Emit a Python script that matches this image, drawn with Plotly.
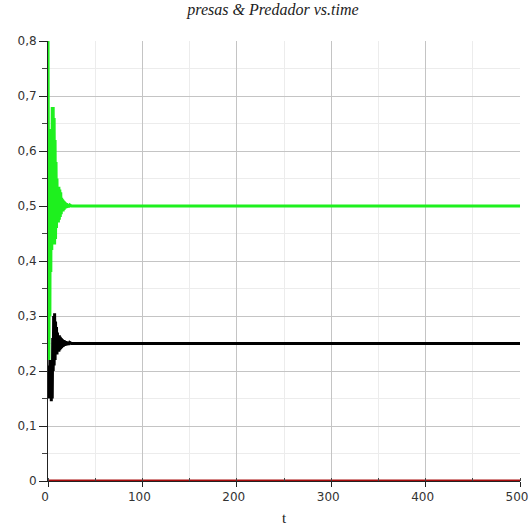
import plotly.graph_objects as go

# Time samples (early transient oscillations, then steady state)
t_presa1 = [0, 0.5, 1.0, 1.5, 2.0, 2.5, 3.0, 3.5, 4.0, 4.5, 5.0, 5.5, 6.0, 6.5, 7.0,
            7.5, 8.0, 8.5, 9.0, 9.5, 10, 10.5, 11, 11.5, 12, 12.5, 13, 13.5, 14,
            14.5, 15, 15.5, 16, 16.5, 17, 17.5, 18, 18.5, 19, 19.5, 20, 21, 22, 23,
            25, 500]
presa1 = [0.82, 0.45, 0.22, 0.55, 0.30, 0.62, 0.38, 0.64, 0.42, 0.68, 0.44, 0.68,
          0.45, 0.66, 0.43, 0.62, 0.44, 0.58, 0.46, 0.55, 0.47, 0.535, 0.47, 0.535,
          0.475, 0.53, 0.48, 0.525, 0.485, 0.515, 0.49, 0.512, 0.49, 0.51, 0.493,
          0.508, 0.495, 0.506, 0.496, 0.505, 0.497, 0.503, 0.498, 0.502, 0.5, 0.5]

t_presa2 = [0, 0.5, 1, 1.5, 2, 2.5, 3, 3.5, 4, 4.5, 5, 5.5, 6, 6.5, 7, 7.5, 8, 8.5,
            9, 9.5, 10, 10.5, 11, 11.5, 12, 12.5, 13, 13.5, 14, 14.5, 15, 16, 17,
            18, 19, 20, 21, 22, 23, 25, 500]
presa2 = [0.20, 0.16, 0.21, 0.15, 0.22, 0.15, 0.22, 0.145, 0.22, 0.15, 0.26, 0.20,
          0.30, 0.21, 0.305, 0.22, 0.29, 0.23, 0.28, 0.23, 0.27, 0.235, 0.265,
          0.235, 0.265, 0.238, 0.262, 0.24, 0.26, 0.242, 0.258, 0.244, 0.256,
          0.246, 0.254, 0.247, 0.253, 0.248, 0.252, 0.25, 0.25]

t_predador = [0, 500]
predador = [0.0, 0.0]

y_ticks = [0, 0.1, 0.2, 0.3, 0.4, 0.5, 0.6, 0.7, 0.8]
y_labels = ["0", "0,1", "0,2", "0,3", "0,4", "0,5", "0,6", "0,7", "0,8"]
x_ticks = [0, 100, 200, 300, 400, 500]
x_labels = ["0", "100", "200", "300", "400", "500"]

fig = go.Figure()
fig.add_trace(go.Scatter(x=t_presa2, y=presa2, mode="lines",
                         line=dict(color="#000000", width=3), name="presa 2"))
fig.add_trace(go.Scatter(x=t_presa1, y=presa1, mode="lines",
                         line=dict(color="#1ef01e", width=3), name="presa 1"))
fig.add_trace(go.Scatter(x=t_predador, y=predador, mode="lines",
                         line=dict(color="#a80c0c", width=3), name="Predador"))

tick_font = dict(family="DejaVu Sans", size=12, color="#333333")

fig.update_layout(
    width=530, height=529,
    margin=dict(l=48, r=10, t=41, b=48),
    paper_bgcolor="white", plot_bgcolor="white",
    showlegend=False,
    title=dict(text="presas & Predador vs.time", x=0.515, xanchor="center",
               y=0.992, yanchor="top",
               font=dict(family="Liberation Serif", size=16, color="#222222",
                         style="italic")),
    xaxis=dict(range=[0, 500], tickvals=x_ticks, ticktext=x_labels,
               automargin=False,
               showline=True, linecolor="#222222", linewidth=1,
               ticks="outside", ticklen=5, tickcolor="#222222",
               showgrid=True, gridcolor="#c4c4c4", gridwidth=1, zeroline=False,
               tickfont=tick_font, ticklabeloverflow="allow", ticklabelshift=-3,
               minor=dict(dtick=50, showgrid=True, gridcolor="#ececec",
                          ticks="inside", ticklen=3, tickcolor="#444444"),
               title=dict(text="t", standoff=9,
                          font=dict(family="Liberation Serif", size=15,
                                    color="#222222"))),
    yaxis=dict(range=[0, 0.8], tickvals=y_ticks, ticktext=y_labels,
               automargin=False,
               showline=True, linecolor="#222222", linewidth=1,
               ticks="outside", ticklen=8, tickcolor="#222222",
               showgrid=True, gridcolor="#c4c4c4", gridwidth=1, zeroline=False,
               tickfont=tick_font,
               minor=dict(dtick=0.05, showgrid=True, gridcolor="#ececec",
                          ticks="outside", ticklen=5, tickcolor="#444444")),
)

fig.write_html("out.html")
